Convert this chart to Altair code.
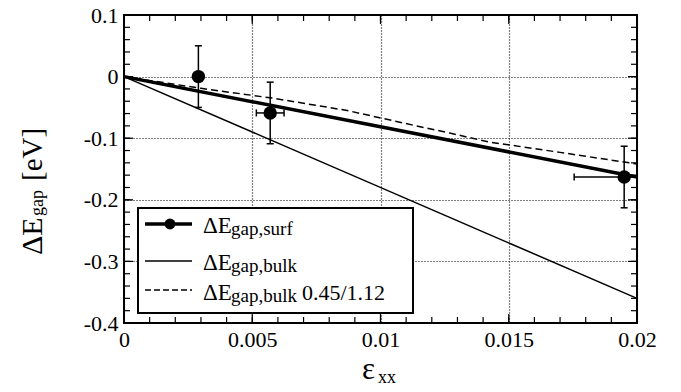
import altair as alt
import pandas as pd

FONT = "Liberation Serif"

# ---- data ----
pts_x = [0.0029, 0.0057, 0.0195]
pts_y = [0.0, -0.059, -0.163]
pts_yerr = [0.05, 0.05, 0.05]
pts_xerr = [0.0, 0.00054, 0.00195]

fit_x = [0.0, 0.02]
fit_y = [0.0, -0.163]

bulk_x = [0.0, 0.02]
bulk_y = [0.0, -0.36]

scaled_x = [0.0, 0.003, 0.0058, 0.0087, 0.0115, 0.0127, 0.0142, 0.017, 0.0197, 0.02]
scaled_y = [0.0, -0.019, -0.035, -0.055, -0.081, -0.0916, -0.106, -0.123, -0.140, -0.142]

x_ticks = [0, 0.005, 0.01, 0.015, 0.02]
y_ticks = [0.1, 0, -0.1, -0.2, -0.3, -0.4]
x_minor = [round(i * 0.001, 3) for i in range(21)]
y_minor = [round(-0.4 + i * 0.02, 2) for i in range(26)]

W, H = 513, 308

xs = alt.Scale(domain=[0, 0.02], nice=False, zero=False)
ys = alt.Scale(domain=[-0.4, 0.1], nice=False, zero=False)

common_axis = dict(grid=True, gridDash=[1, 2], gridColor="black", gridWidth=1.2,
                   ticks=False, domain=False, labelFont=FONT, labelFontSize=22,
                   labelColor="black", labelPadding=6, title=None,
                   labelExpr="toString(datum.value)", labelOverlap=False,
                   labelFlush=False)
xaxis = alt.Axis(values=x_ticks, **common_axis)
yaxis = alt.Axis(values=y_ticks, **common_axis)


def X(f):
    return alt.X(f"{f}:Q", scale=xs, axis=xaxis)


def Y(f):
    return alt.Y(f"{f}:Q", scale=ys, axis=yaxis)


df_pts = pd.DataFrame({"x": pts_x, "y": pts_y, "ye": pts_yerr, "xe": pts_xerr})
df_pts["ylo"] = df_pts["y"] - df_pts["ye"]
df_pts["yhi"] = df_pts["y"] + df_pts["ye"]
df_pts["xlo"] = df_pts["x"] - df_pts["xe"]
df_pts["xhi"] = df_pts["x"] + df_pts["xe"]
df_xe = df_pts[df_pts["xe"] > 0]

bulk = alt.Chart(pd.DataFrame({"x": bulk_x, "y": bulk_y})).mark_line(
    color="black", strokeWidth=1.5).encode(x=X("x"), y=Y("y"))
scaled = alt.Chart(pd.DataFrame({"x": scaled_x, "y": scaled_y})).mark_line(
    color="black", strokeWidth=1.5, strokeDash=[7, 4]).encode(x=X("x"), y=Y("y"))
fit = alt.Chart(pd.DataFrame({"x": fit_x, "y": fit_y})).mark_line(
    color="black", strokeWidth=3.5).encode(x=X("x"), y=Y("y"))

ebar_y = alt.Chart(df_pts).mark_rule(color="black", strokeWidth=1.5).encode(
    x=X("x"), y=Y("ylo"), y2="yhi")
cap_lo = alt.Chart(df_pts).mark_tick(color="black", orient="horizontal", size=7,
                                     thickness=1.5, opacity=1).encode(x=X("x"), y=Y("ylo"))
cap_hi = alt.Chart(df_pts).mark_tick(color="black", orient="horizontal", size=7,
                                     thickness=1.5, opacity=1).encode(x=X("x"), y=Y("yhi"))
ebar_x = alt.Chart(df_xe).mark_rule(color="black", strokeWidth=1.5, clip=True).encode(
    x=X("xlo"), x2="xhi", y=Y("y"))
capx_lo = alt.Chart(df_xe).mark_tick(color="black", orient="vertical", size=7,
                                     thickness=1.5, opacity=1, clip=True).encode(x=X("xlo"), y=Y("y"))
capx_hi = alt.Chart(df_xe).mark_tick(color="black", orient="vertical", size=7,
                                     thickness=1.5, opacity=1, clip=True).encode(x=X("xhi"), y=Y("y"))
points = alt.Chart(df_pts).mark_point(filled=True, shape="circle", size=180,
                                      color="black", opacity=1).encode(x=X("x"), y=Y("y"))

# ---- inward ticks on all four sides ----
x_major_df = pd.DataFrame({"v": x_ticks})
x_minor_df = pd.DataFrame({"v": x_minor})
y_major_df = pd.DataFrame({"v": y_ticks})
y_minor_df = pd.DataFrame({"v": y_minor})

tick_layers = []
for df, ln in [(x_major_df, 9), (x_minor_df, 6)]:
    tick_layers.append(alt.Chart(df).mark_rule(color="black", strokeWidth=1.2).encode(
        x=X("v"), y=alt.value(H), y2=alt.value(H - ln)))
    tick_layers.append(alt.Chart(df).mark_rule(color="black", strokeWidth=1.2).encode(
        x=X("v"), y=alt.value(0), y2=alt.value(ln)))
for df, ln in [(y_major_df, 9), (y_minor_df, 6)]:
    tick_layers.append(alt.Chart(df).mark_rule(color="black", strokeWidth=1.2).encode(
        y=Y("v"), x=alt.value(0), x2=alt.value(ln)))
    tick_layers.append(alt.Chart(df).mark_rule(color="black", strokeWidth=1.2).encode(
        y=Y("v"), x=alt.value(W), x2=alt.value(W - ln)))

# ---- manual legend (to allow subscripts) ----
one = pd.DataFrame({"a": [0]})
leg_box = alt.Chart(one).mark_rect(fill="white", stroke="black", strokeWidth=2).encode(
    x=alt.value(14), x2=alt.value(289), y=alt.value(193), y2=alt.value(298))
leg_l1 = alt.Chart(one).mark_rule(color="black", strokeWidth=3.5).encode(
    x=alt.value(21), x2=alt.value(68), y=alt.value(209))
leg_p1 = alt.Chart(one).mark_point(filled=True, shape="circle", size=120, color="black",
                                   opacity=1).encode(x=alt.value(46), y=alt.value(209))
leg_l2 = alt.Chart(one).mark_rule(color="black", strokeWidth=1.5).encode(
    x=alt.value(21), x2=alt.value(68), y=alt.value(246))
leg_l3 = alt.Chart(one).mark_rule(color="black", strokeWidth=1.5, strokeDash=[6, 3]).encode(
    x=alt.value(21), x2=alt.value(68), y=alt.value(275))


def txt(s, x, y, size, angle=0):
    return alt.Chart(one).mark_text(text=s, font=FONT, fontSize=size, color="black",
                                    align="left", baseline="alphabetic", angle=angle).encode(
        x=alt.value(x), y=alt.value(y))


legend_text = [
    txt("ΔE", 79, 218, 23), txt("gap,surf", 107, 220, 19),
    txt("ΔE", 79, 255, 23), txt("gap,bulk", 107, 257, 19),
    txt("ΔE", 79, 285, 23), txt("gap,bulk", 107, 287, 19),
    txt("0.45/1.12", 178, 285, 22),
]

# ---- axis titles with subscripts ----
titles = [
    txt("ΔE", -82, 240, 30, angle=270),
    txt("gap", -81, 201, 18, angle=270),
    txt("[eV]", -82, 166, 29, angle=270),
    txt("ε", 238, 364, 31),
    txt("xx", 254, 368, 18),
]

chart = alt.layer(
    bulk, scaled, fit, ebar_y, cap_lo, cap_hi, ebar_x, capx_lo, capx_hi, points,
    *tick_layers, leg_box, leg_l1, leg_p1, leg_l2, leg_l3, *legend_text, *titles
).properties(
    width=W, height=H,
    autosize=alt.AutoSizeParams(type="none"),
    padding={"left": 124, "top": 15, "right": 44, "bottom": 69},
    background="white",
).configure_view(stroke="black", strokeWidth=2).configure_axis(
    labelFont=FONT, labelFontSize=22, labelColor="black")

chart.save("out.html", embed_options={"renderer": "svg", "actions": False})
